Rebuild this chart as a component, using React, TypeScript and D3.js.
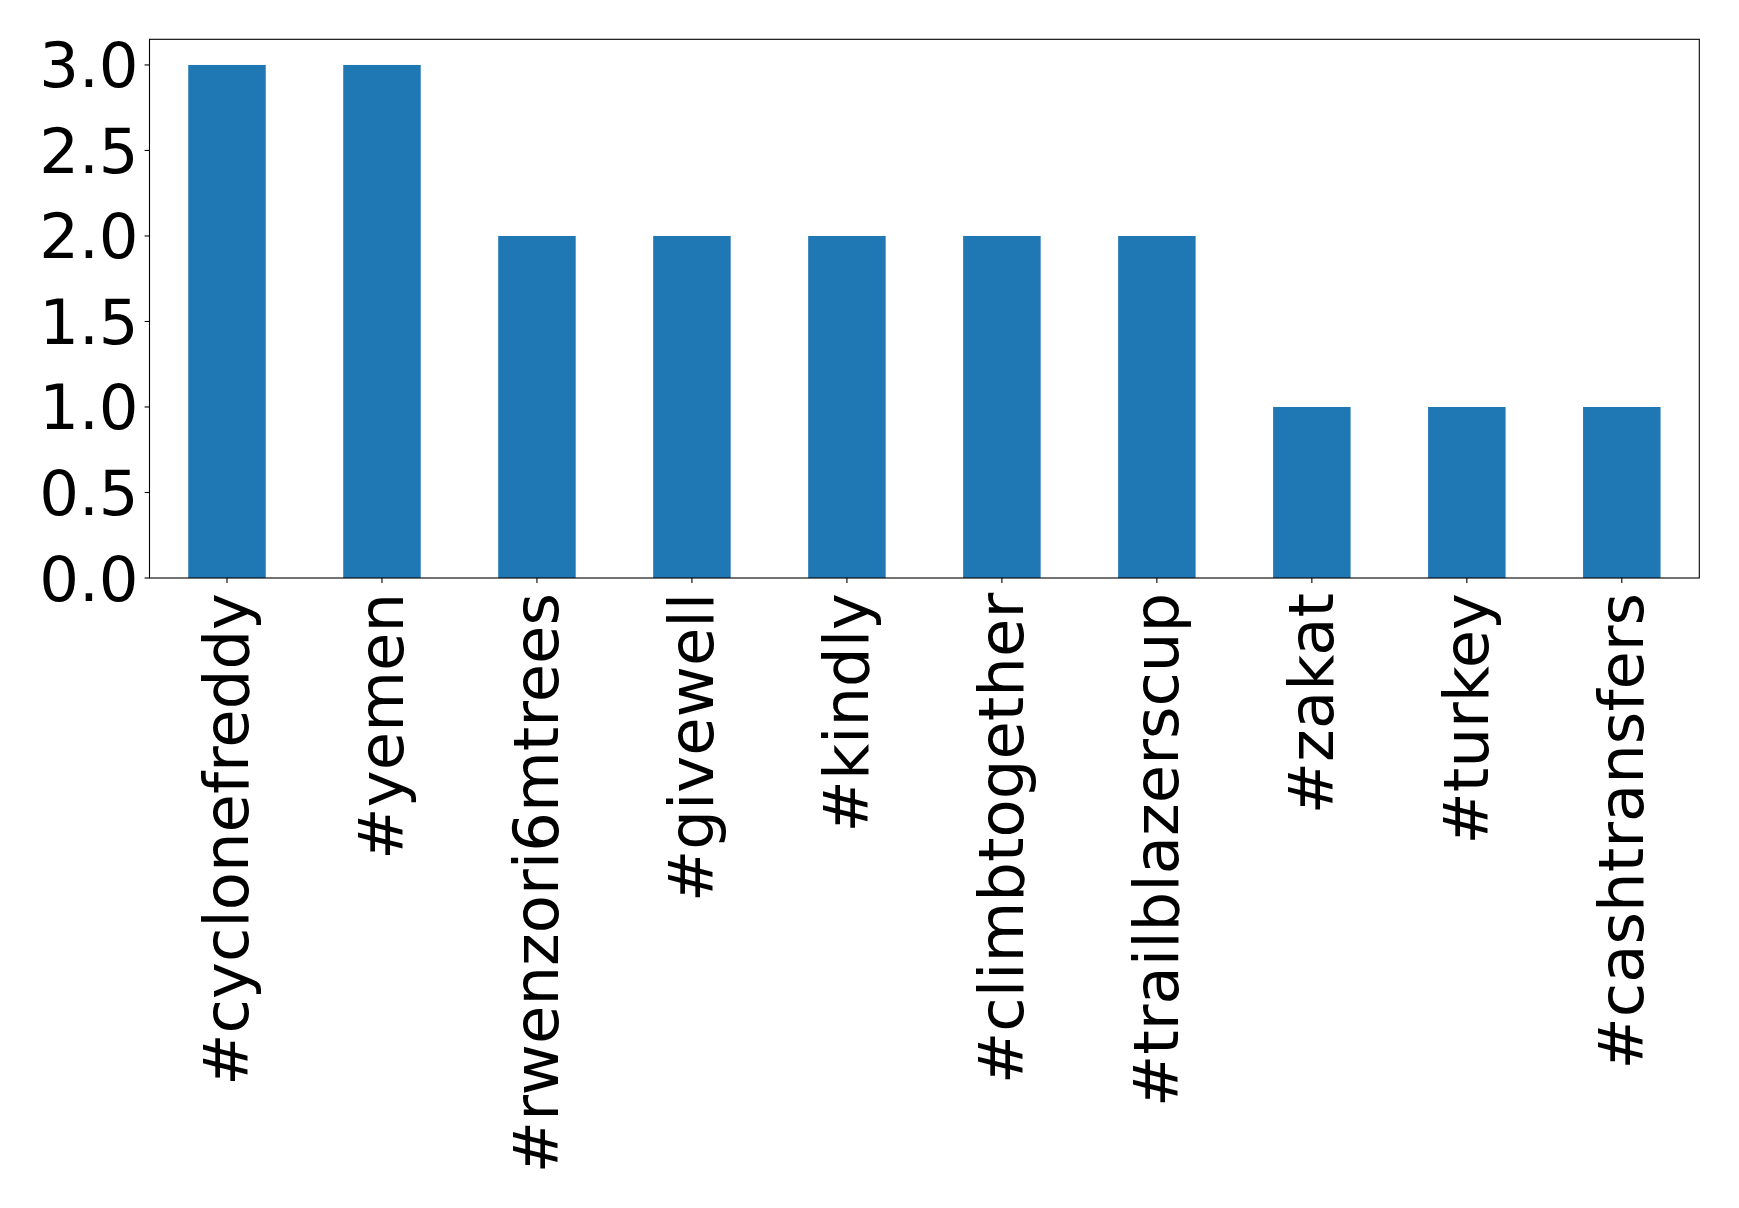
import React from "react";
import * as d3 from "d3";

const categories = ["#cyclonefreddy", "#yemen", "#rwenzori6mtrees", "#givewell", "#kindly", "#climbtogether", "#trailblazerscup", "#zakat", "#turkey", "#cashtransfers"];
const counts = [3, 3, 2, 2, 2, 2, 2, 1, 1, 1];
const yTicks = [0, 0.5, 1.0, 1.5, 2.0, 2.5, 3.0];

const W = 1739, H = 1208;
const left = 149.5, right = 1699.3, top = 39.3, bottom = 578;
const FONT = "DejaVu Sans, sans-serif";
const FS = 62.5;

export default function App() {
  const x = d3.scaleLinear().domain([-0.5, categories.length - 0.5]).range([left, right]);
  const y = d3.scaleLinear().domain([0, 3.15]).range([bottom, top]);
  const bw = x(0.25) - x(-0.25);
  return (
    <svg width={W} height={H} style={{ position: "absolute", left: 0, top: 0, background: "#fff" }}>
      {counts.map((v, i) => (
        <rect key={i} x={x(i) - bw / 2} y={y(v)} width={bw} height={y(0) - y(v)} fill="#1f77b4" />
      ))}
      <rect x={left} y={top} width={right - left} height={bottom - top} fill="none" stroke="#000" strokeWidth={1.1} />
      {yTicks.map((t) => (
        <g key={t}>
          <line x1={left - 4.9} x2={left} y1={y(t)} y2={y(t)} stroke="#000" strokeWidth={1.1} />
          <text x={left - 4.9 - 6} y={y(t)} dy="0.36em" textAnchor="end" fontFamily={FONT} fontSize={FS} fill="#000">
            {t.toFixed(1)}
          </text>
        </g>
      ))}
      {categories.map((c, i) => (
        <g key={c}>
          <line x1={x(i)} x2={x(i)} y1={bottom} y2={bottom + 4.9} stroke="#000" strokeWidth={1.1} />
          <text
            transform={`translate(${x(i)},${bottom + 4.9 + 10}) rotate(-90)`}
            textAnchor="end"
            dy="0.34em"
            fontFamily={FONT}
            fontSize={FS}
            fill="#000"
          >
            {c}
          </text>
        </g>
      ))}
    </svg>
  );
}
